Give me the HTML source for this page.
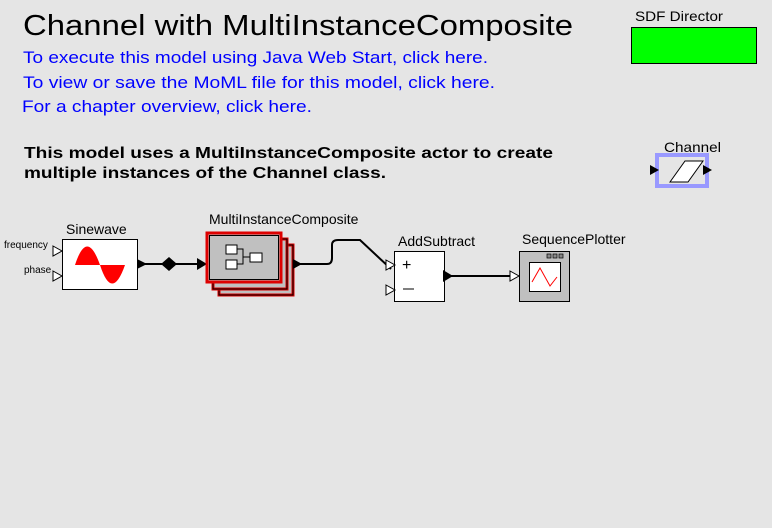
<!DOCTYPE html>
<html><head><meta charset="utf-8"><style>html,body{margin:0;padding:0;background:#e5e5e5}svg{display:block}text{font-family:"Liberation Sans",sans-serif}</style></head>
<body>
<svg width="772" height="528" viewBox="0 0 772 528" xmlns="http://www.w3.org/2000/svg">
<rect width="772" height="528" fill="#e5e5e5"/>
<text x="23" y="35" font-size="29" textLength="550" lengthAdjust="spacingAndGlyphs">Channel with MultiInstanceComposite</text>
<g fill="#0000ff" font-size="17">
<text x="23" y="63" textLength="465" lengthAdjust="spacingAndGlyphs">To execute this model using Java Web Start, click here.</text>
<text x="23" y="88" textLength="472" lengthAdjust="spacingAndGlyphs">To view or save the MoML file for this model, click here.</text>
<text x="22" y="112" textLength="290" lengthAdjust="spacingAndGlyphs">For a chapter overview, click here.</text>
</g>
<g font-size="16" font-weight="bold">
<text x="24" y="158" textLength="529" lengthAdjust="spacingAndGlyphs">This model uses a MultiInstanceComposite actor to create</text>
<text x="24" y="178" textLength="362" lengthAdjust="spacingAndGlyphs">multiple instances of the Channel class.</text>
</g>
<text x="635" y="21" font-size="14" textLength="88" lengthAdjust="spacingAndGlyphs">SDF Director</text>
<rect x="631.5" y="27.5" width="125" height="36" fill="#00ff00" stroke="#000"/>
<!-- Channel icon -->
<text x="664" y="152" font-size="14" textLength="57" lengthAdjust="spacingAndGlyphs">Channel</text>
<rect x="657" y="155" width="50" height="31" fill="none" stroke="#9999ff" stroke-width="4"/>
<polygon points="670,182 685,161 703,161 688,182" fill="#fff" stroke="#000"/>
<polygon points="650,165 659,170 650,175" fill="#000"/>
<polygon points="703,165 712,170 703,175" fill="#000"/>
<!-- Sinewave -->
<text x="66" y="234" font-size="14">Sinewave</text>
<rect x="62.5" y="239.5" width="75" height="50" fill="#fff" stroke="#000"/>
<path d="M75,265 Q87,228 100,265 Z" fill="#f00"/>
<path d="M100,265 Q112,302 125,265 Z" fill="#f00"/>
<text x="4" y="248" font-size="10">frequency</text>
<text x="24" y="273" font-size="10">phase</text>
<polygon points="53,246 62,251 53,256" fill="#fff" stroke="#000"/>
<polygon points="53,271 62,276 53,281" fill="#fff" stroke="#000"/>
<polygon points="137,259 147,264 137,269" fill="#000"/>
<line x1="145" y1="264" x2="207" y2="264" stroke="#000" stroke-width="2"/>
<polygon points="161,264 169,257 177,264 169,271" fill="#000"/>
<polygon points="197,258 207,264 197,270" fill="#000"/>
<!-- MultiInstanceComposite -->
<text x="209" y="224" font-size="14">MultiInstanceComposite</text>
<rect x="219" y="245" width="74" height="50" fill="#c0c0c0" stroke="#d00" stroke-width="3"/>
<rect x="219" y="245" width="74" height="50" fill="none" stroke="#000" stroke-width="1"/>
<rect x="213" y="239" width="74" height="50" fill="#c0c0c0" stroke="#d00" stroke-width="3"/>
<rect x="213" y="239" width="74" height="50" fill="none" stroke="#000" stroke-width="1"/>
<rect x="207" y="233" width="74" height="49" fill="#c0c0c0" stroke="#d00" stroke-width="3"/>
<rect x="209.5" y="235.5" width="69" height="44" fill="none" stroke="#000" stroke-width="1"/>
<rect x="226" y="245" width="11" height="9" fill="#fff" stroke="#000"/>
<rect x="226" y="260" width="11" height="9" fill="#fff" stroke="#000"/>
<rect x="250" y="253" width="12" height="9" fill="#fff" stroke="#000"/>
<path d="M237,249 H243 V264 H237 M243,257 H250" fill="none" stroke="#000"/>
<polygon points="293,259 302,264 293,269" fill="#000"/>
<path d="M300,264 H327 Q332,264 332,258 V245 Q332,240 338,240 H360 L391,269" fill="none" stroke="#000" stroke-width="2"/>
<!-- AddSubtract -->
<text x="398" y="246" font-size="14">AddSubtract</text>
<rect x="394.5" y="251.5" width="50" height="50" fill="#fff" stroke="#000"/>
<text x="402" y="270" font-size="16">+</text>
<line x1="403" y1="289" x2="414" y2="289" stroke="#000"/>
<polygon points="386,260 395,265 386,270" fill="#fff" stroke="#000"/>
<polygon points="386,285 395,290 386,295" fill="#fff" stroke="#000"/>
<polygon points="443,270 453,276 443,282" fill="#000"/>
<line x1="450" y1="276" x2="512" y2="276" stroke="#000" stroke-width="2"/>
<polygon points="510,271 519,276 510,281" fill="#fff" stroke="#000"/>
<!-- SequencePlotter -->
<text x="522" y="244" font-size="14">SequencePlotter</text>
<rect x="519.5" y="251.5" width="50" height="50" fill="#c0c0c0" stroke="#000"/>
<rect x="529.5" y="262.5" width="31" height="29" fill="#fff" stroke="#000"/>
<rect x="547" y="254" width="4" height="4" fill="#888" stroke="#000" stroke-width="0.7"/>
<rect x="553" y="254" width="4" height="4" fill="#888" stroke="#000" stroke-width="0.7"/>
<rect x="559" y="254" width="4" height="4" fill="#888" stroke="#000" stroke-width="0.7"/>
<polyline points="532,282 540,268 550,286 557,277" fill="none" stroke="#f00"/>
</svg>
</body></html>
